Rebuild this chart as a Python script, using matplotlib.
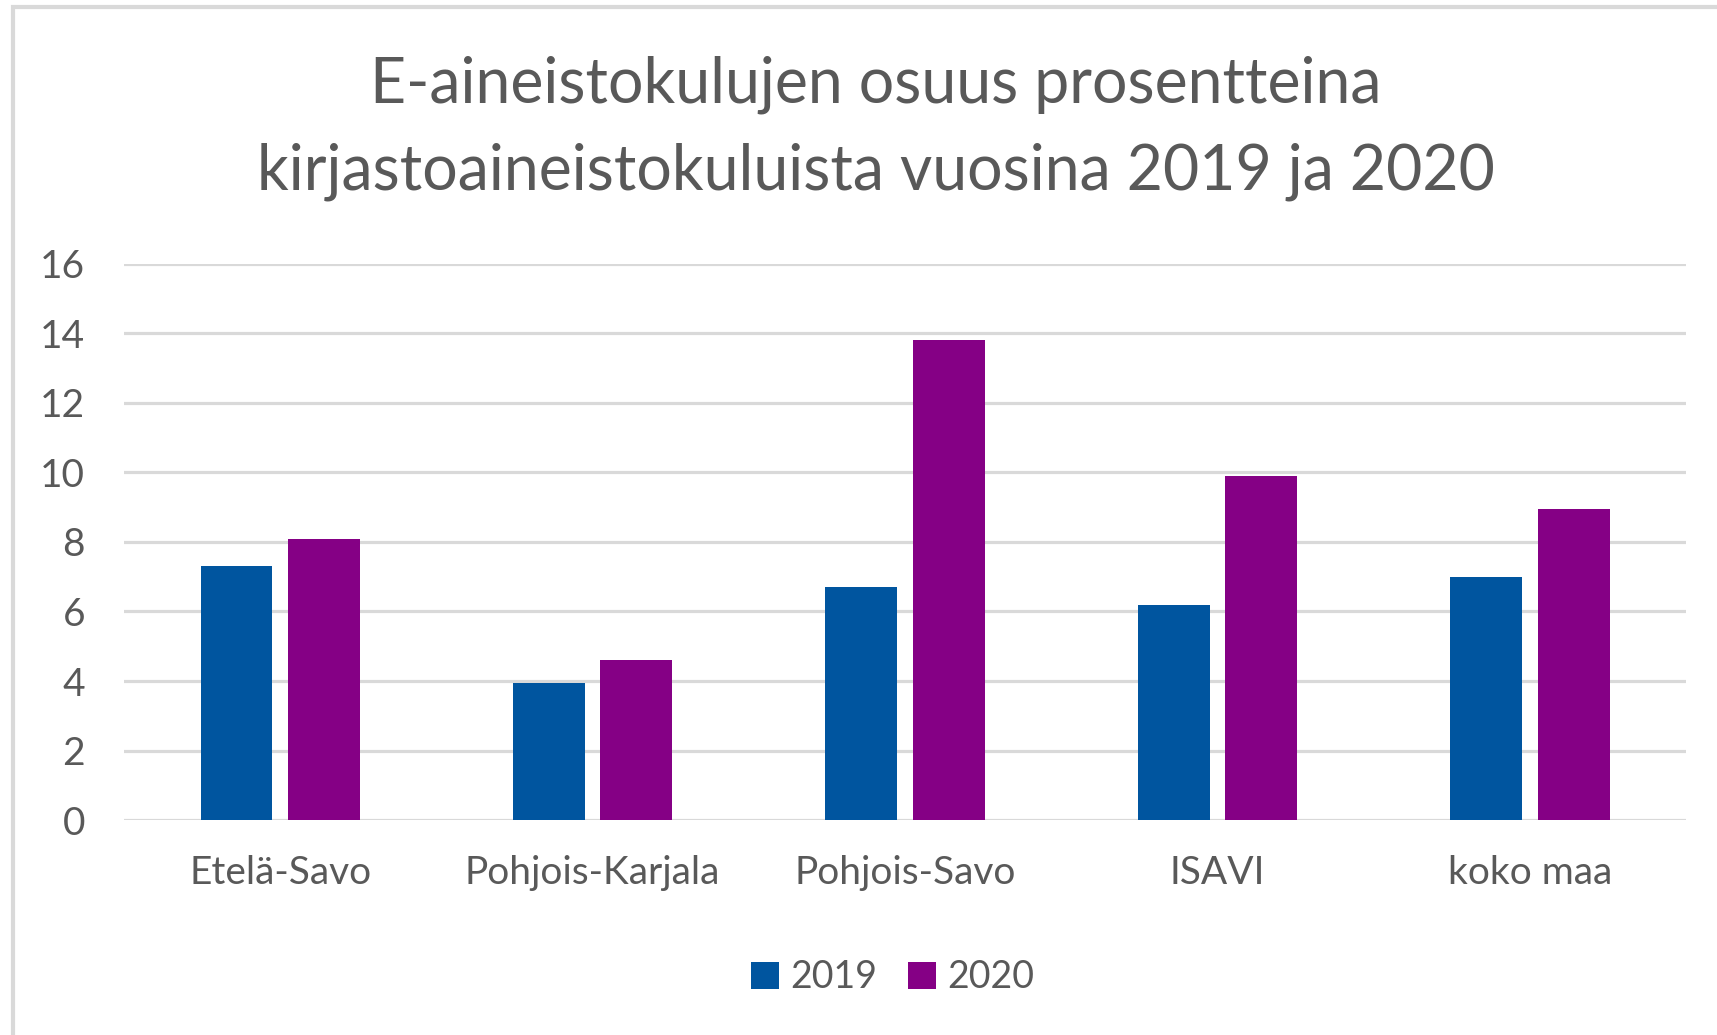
import matplotlib.pyplot as plt
import numpy as np
from matplotlib.patches import Rectangle

# data
regions = ["Etelä-Savo", "Pohjois-Karjala", "Pohjois-Savo", "ISAVI", "koko maa"]
share_2019 = [7.3, 3.95, 6.7, 6.2, 7.0]
share_2020 = [8.1, 4.6, 13.8, 9.9, 8.95]
years = ["2019", "2020"]

plt.rcParams['font.family'] = ['Lato', 'DejaVu Sans']

fig = plt.figure(figsize=(17.17, 10.35), dpi=100)
ax = fig.add_axes([0.0722, 0.2077, 0.9098, 0.5373])

x = np.arange(len(regions))
w = 0.23
ax.bar(x - 0.14, share_2019, w, color="#00559F", label=years[0], zorder=3)
ax.bar(x + 0.14, share_2020, w, color="#850085", label=years[1], zorder=3)

ax.set_xlim(-0.5, len(regions) - 0.5)
ax.set_ylim(0, 16)
ax.set_yticks(range(0, 17, 2))
ax.yaxis.grid(True, color="#d9d9d9", linewidth=2.3, zorder=0)
ax.set_axisbelow(True)
for s in ax.spines.values():
    s.set_visible(False)
ax.set_xticks(x)
ax.set_xticklabels(regions)
ax.tick_params(axis="both", length=0, labelsize=28, labelcolor="#595959")
ax.tick_params(axis="y", pad=28)
ax.tick_params(axis="x", pad=25)

fig.text(0.51, 0.918, "E-aineistokulujen osuus prosentteina", ha="center", va="center",
         fontsize=45, color="#595959")
fig.text(0.51, 0.834, "kirjastoaineistokuluista vuosina 2019 ja 2020", ha="center", va="center",
         fontsize=45, color="#595959")

ax.legend(loc="upper center", bbox_to_anchor=(0.492, -0.19), ncol=2, frameon=False,
          fontsize=27, labelcolor="#595959", handlelength=0.75, handleheight=0.75,
          columnspacing=0.8, handletextpad=0.3)

# light gray chart-area frame (left and top edges visible)
fig.patches.append(Rectangle((13 / 1717, -0.1), 2, 1.1 - 7 / 1035, transform=fig.transFigure,
                             fill=False, edgecolor="#d9d9d9", linewidth=3))

fig.savefig("out.png", dpi=100)
